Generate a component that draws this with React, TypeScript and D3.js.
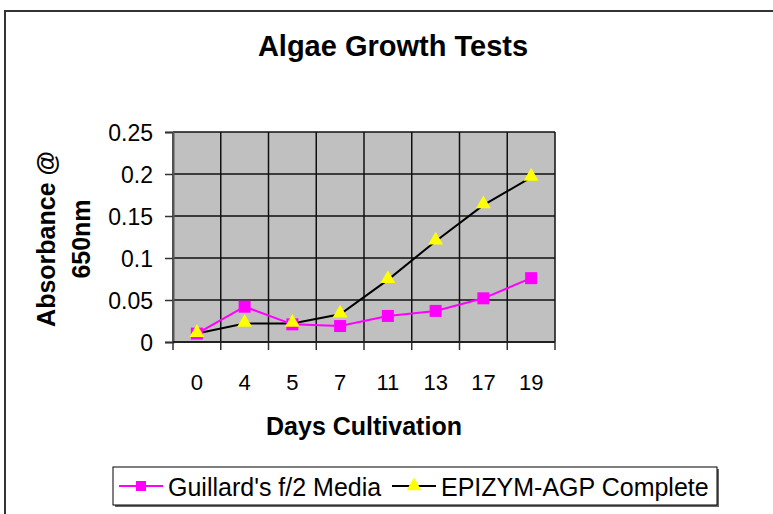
import React, { useEffect, useRef } from "react";
import * as d3 from "d3";

const days = ["0", "4", "5", "7", "11", "13", "17", "19"];
const guillard = [0.01, 0.042, 0.021, 0.019, 0.031, 0.037, 0.052, 0.076];
const epizym = [0.01, 0.022, 0.022, 0.033, 0.074, 0.12, 0.163, 0.196];
const yTicks = [0, 0.05, 0.1, 0.15, 0.2, 0.25];
const seriesNames = ["Guillard's f/2 Media", "EPIZYM-AGP Complete"];

const W = 773;
const H = 514;
const FONT = "'Liberation Sans', Arial, sans-serif";

export default function App() {
  const svgRef = useRef<SVGSVGElement>(null);

  useEffect(() => {
    const svg = d3.select(svgRef.current);
    svg.selectAll("*").remove();

    const plot = { left: 173, top: 132, right: 555, bottom: 342 };

    const x = d3.scaleBand().domain(days).range([plot.left, plot.right]).padding(0);
    const y = d3.scaleLinear().domain([0, 0.25]).range([plot.bottom, plot.top]);
    const cx = (d: string) => (x(d) as number) + x.bandwidth() / 2;

    svg.append("rect").attr("width", W).attr("height", H).attr("fill", "white");

    // outer frame (only top and left visible)
    svg
      .append("path")
      .attr("d", `M5,${H} L5,11 L${W},11`)
      .attr("fill", "none")
      .attr("stroke", "#333")
      .attr("stroke-width", 2);

    // title
    svg
      .append("text")
      .attr("x", 393)
      .attr("y", 56)
      .attr("text-anchor", "middle")
      .attr("font-family", FONT)
      .attr("font-size", 29)
      .attr("font-weight", "bold")
      .text("Algae Growth Tests");

    // plot area
    svg
      .append("rect")
      .attr("x", plot.left)
      .attr("y", plot.top)
      .attr("width", plot.right - plot.left)
      .attr("height", plot.bottom - plot.top)
      .attr("fill", "#C0C0C0");

    const grid = svg.append("g").attr("stroke", "#111").attr("stroke-width", 1.5);
    yTicks.forEach((t) => {
      grid
        .append("line")
        .attr("x1", plot.left)
        .attr("x2", plot.right)
        .attr("y1", y(t))
        .attr("y2", y(t));
    });
    const edges = days.map((d) => x(d) as number).concat([plot.right]);
    edges.forEach((e) => {
      grid
        .append("line")
        .attr("x1", e)
        .attr("x2", e)
        .attr("y1", plot.top)
        .attr("y2", plot.bottom);
    });

    // y axis
    const yAxisG = svg
      .append("g")
      .attr("transform", `translate(${plot.left},0)`)
      .call(
        d3
          .axisLeft(y)
          .tickValues(yTicks)
          .tickSize(8)
          .tickPadding(12)
          .tickFormat((d) => `${d}`)
      );
    yAxisG.select("path").attr("stroke", "#555").attr("stroke-width", 2);
    yAxisG.selectAll("line").attr("stroke", "#333").attr("stroke-width", 1.5);
    yAxisG
      .selectAll("text")
      .attr("font-family", FONT)
      .attr("font-size", 23)
      .attr("dy", "0.36em")
      .attr("fill", "#000");

    // x axis
    const xAxisG = svg
      .append("g")
      .attr("transform", `translate(0,${plot.bottom})`)
      .call(d3.axisBottom(x).tickSize(0).tickPadding(0));
    xAxisG.select("path").remove();
    xAxisG
      .selectAll("text")
      .attr("font-family", FONT)
      .attr("font-size", 22)
      .attr("dy", 0)
      .attr("y", 48)
      .attr("fill", "#000");
    edges.forEach((e) => {
      svg
        .append("line")
        .attr("x1", e)
        .attr("x2", e)
        .attr("y1", plot.bottom)
        .attr("y2", plot.bottom + 8)
        .attr("stroke", "#333")
        .attr("stroke-width", 1.5);
    });
    svg
      .append("line")
      .attr("x1", plot.left)
      .attr("x2", plot.right)
      .attr("y1", plot.bottom)
      .attr("y2", plot.bottom)
      .attr("stroke", "#222")
      .attr("stroke-width", 2);

    // axis titles
    svg
      .append("text")
      .attr("x", 364)
      .attr("y", 435)
      .attr("text-anchor", "middle")
      .attr("font-family", FONT)
      .attr("font-size", 25)
      .attr("font-weight", "bold")
      .text("Days Cultivation");

    const yTitle = svg
      .append("text")
      .attr("transform", `translate(0,239) rotate(-90)`)
      .attr("text-anchor", "middle")
      .attr("font-family", FONT)
      .attr("font-size", 25)
      .attr("font-weight", "bold");
    yTitle.append("tspan").attr("x", 0).attr("y", 55).text("Absorbance @");
    yTitle.append("tspan").attr("x", 0).attr("y", 90).text("650nm");

    // series lines
    const line = d3
      .line<number>()
      .x((_, i) => cx(days[i]))
      .y((v) => y(v));

    svg
      .append("path")
      .datum(epizym)
      .attr("d", line)
      .attr("fill", "none")
      .attr("stroke", "#000")
      .attr("stroke-width", 2);
    svg
      .append("path")
      .datum(guillard)
      .attr("d", line)
      .attr("fill", "none")
      .attr("stroke", "#FF00FF")
      .attr("stroke-width", 2);

    const square = d3.symbol().type(d3.symbolSquare).size(144);
    const triangle = d3.symbol().type(d3.symbolTriangle).size(95);
    const legendSquare = d3.symbol().type(d3.symbolSquare).size(100);

    svg
      .append("g")
      .selectAll("path")
      .data(guillard)
      .enter()
      .append("path")
      .attr("d", square)
      .attr("transform", (v, i) => `translate(${cx(days[i])},${y(v)})`)
      .attr("fill", "#FF00FF");
    svg
      .append("g")
      .selectAll("path")
      .data(epizym)
      .enter()
      .append("path")
      .attr("d", triangle)
      .attr("transform", (v, i) => `translate(${cx(days[i])},${y(v) - 1})`)
      .attr("fill", "#FFFF00");

    // legend
    const lg = { x: 113, y: 467, w: 604, h: 38 };
    svg
      .append("rect")
      .attr("x", lg.x + 2)
      .attr("y", lg.y + 2)
      .attr("width", lg.w)
      .attr("height", lg.h)
      .attr("fill", "#666");
    svg
      .append("rect")
      .attr("x", lg.x)
      .attr("y", lg.y)
      .attr("width", lg.w)
      .attr("height", lg.h)
      .attr("fill", "white")
      .attr("stroke", "#000")
      .attr("stroke-width", 1);

    const items = [
      { name: seriesNames[0], color: "#FF00FF", x0: 119, sym: legendSquare, fill: "#FF00FF" },
      { name: seriesNames[1], color: "#000", x0: 392, sym: triangle, fill: "#FFFF00" },
    ];
    items.forEach((it) => {
      const my = lg.y + lg.h / 2;
      svg
        .append("line")
        .attr("x1", it.x0)
        .attr("x2", it.x0 + 44)
        .attr("y1", my)
        .attr("y2", my)
        .attr("stroke", it.color)
        .attr("stroke-width", 2);
      svg
        .append("path")
        .attr("d", it.sym)
        .attr("transform", `translate(${it.x0 + 22},${my})`)
        .attr("fill", it.fill);
      svg
        .append("text")
        .attr("x", it.x0 + 49)
        .attr("y", 496)
        .attr("font-family", FONT)
        .attr("font-size", 25)
        .text(it.name);
    });
  }, []);

  return (
    <svg
      ref={svgRef}
      width={W}
      height={H}
      style={{ position: "absolute", left: 0, top: 0 }}
    />
  );
}
